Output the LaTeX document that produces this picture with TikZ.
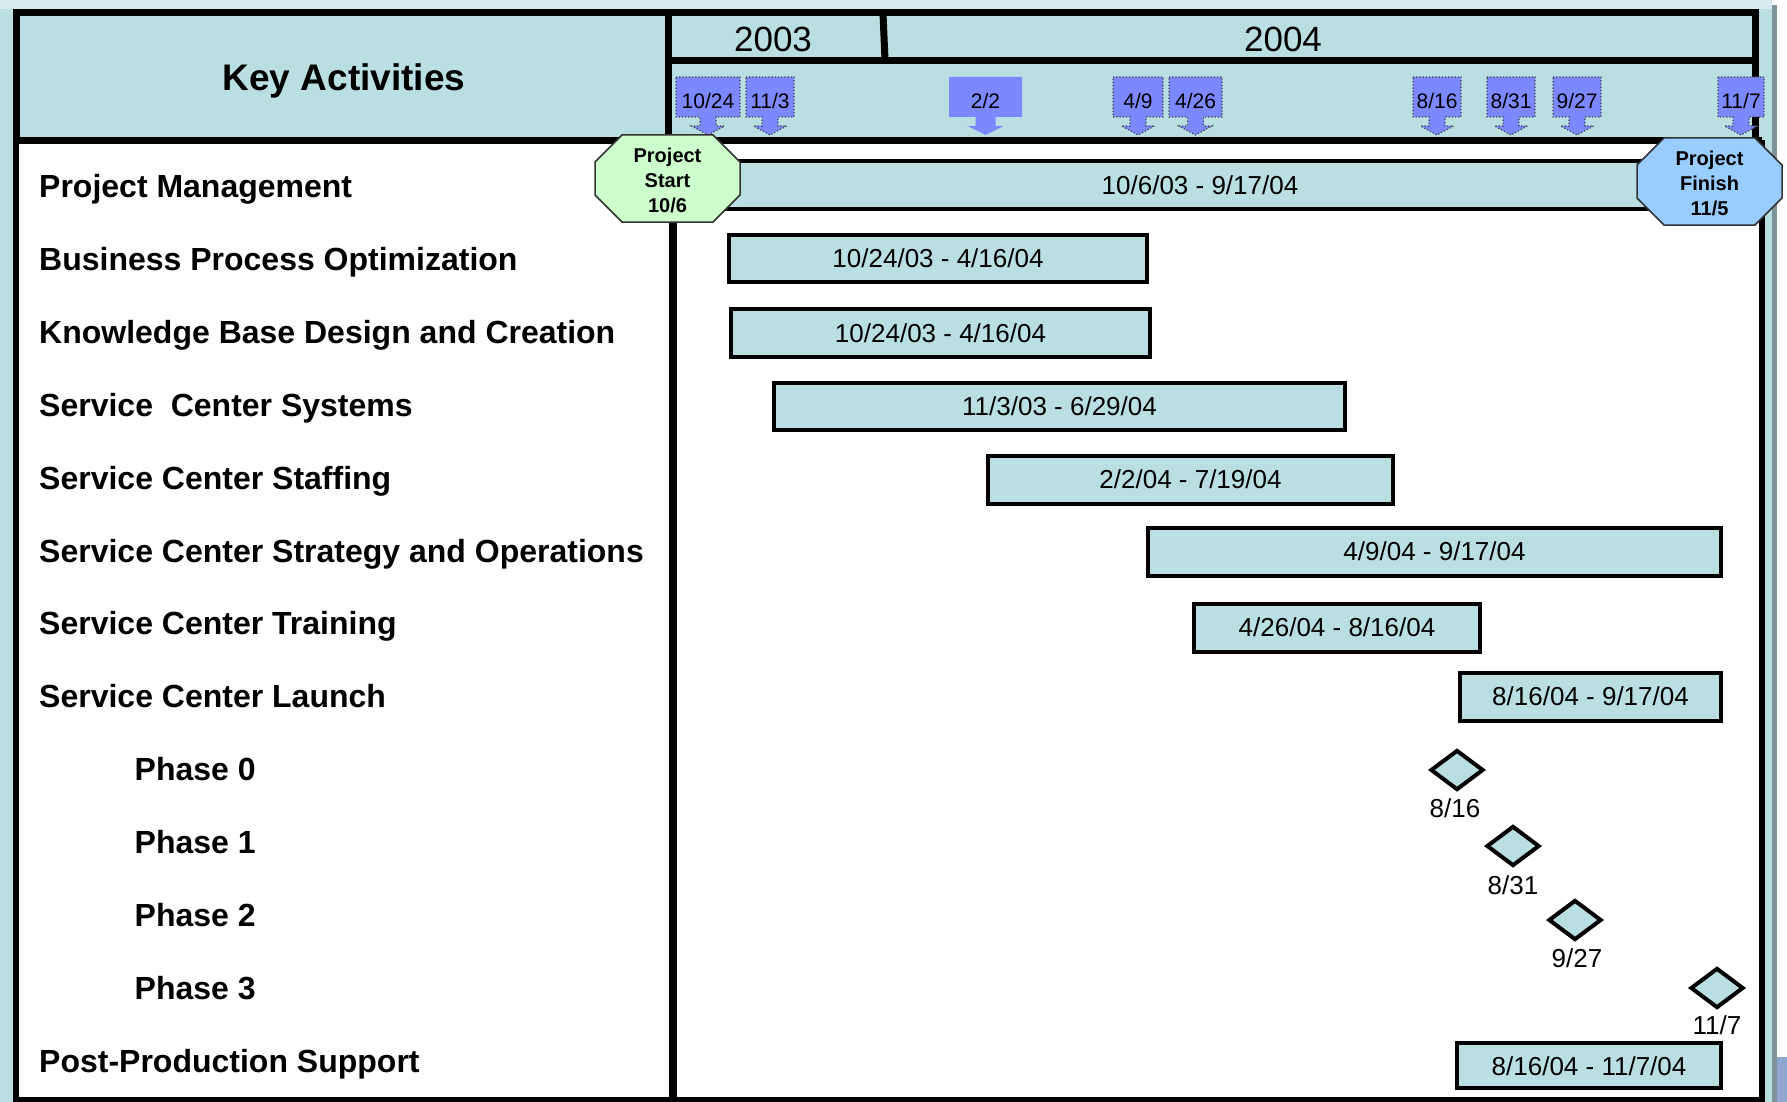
\documentclass[tikz,border=0pt]{standalone}
\usepackage{fontspec}
\setmainfont{Liberation Sans}
\usetikzlibrary{shapes.geometric}
\definecolor{ganttblue}{HTML}{B9DFE3}
\definecolor{bandblue}{HTML}{D6EBED}
\definecolor{shadowgray}{HTML}{7F9498}
\definecolor{msblue}{HTML}{7B88FF}
\definecolor{startgreen}{HTML}{CCFFCC}
\definecolor{finishblue}{HTML}{99CCFF}
\definecolor{cornerblue}{HTML}{8FA6CF}

\tikzset{
  frame/.style={line width=7pt},
  rowlabel/.style={anchor=west, inner sep=0pt, text height=23pt, text depth=0pt,
    font=\fontsize{32}{38}\selectfont\bfseries},
  bar/.style={draw, line width=4pt, fill=ganttblue, inner sep=0pt,
    text height=18.6pt, text depth=0pt, font=\fontsize{26}{31}\selectfont},
  bartext/.style={inner sep=0pt, text height=18.6pt, text depth=0pt,
    font=\fontsize{26}{31}\selectfont},
  yeartext/.style={inner sep=0pt, text height=25pt, text depth=0pt,
    font=\fontsize{35}{42}\selectfont},
  flagtext/.style={inner sep=0pt, text height=15pt, text depth=0pt,
    font=\fontsize{21}{25}\selectfont},
  flagbox/.style={fill=msblue, draw=black!75, dotted, line width=1.2pt},
  flagplain/.style={fill=msblue},
  octtext/.style={inner sep=0pt, align=center,
    font=\fontsize{20}{25}\selectfont\bfseries},
  octline/.style={draw=black!80, line width=1.5pt},
  milestone/.style={diamond, draw, line width=4pt, fill=ganttblue, inner sep=0pt,
    minimum width=53pt, minimum height=40pt},
  mslabel/.style={inner sep=0pt, text height=18.6pt, text depth=0pt,
    font=\fontsize{26}{31}\selectfont},
}

% milestone flag: name, left, right, text, style, shaft half width, head half width
\newcommand\msflag[7]{%
  \pgfmathsetmacro\fcx{(#2+#3)/2}%
  \path[#5] (#2,77) -- (#3,77) -- (#3,117) -- (\fcx+#6,117) -- (\fcx+#6,126)
    -- (\fcx+#7,126) -- (\fcx,135) -- (\fcx-#7,126) -- (\fcx-#6,126)
    -- (\fcx-#6,117) -- (#2,117) -- cycle;
  \node[flagtext] (#1) at (\fcx,101.5) {#4};%
}

% octagonal start/finish marker: name, centre x, centre y, fill, text
\newcommand\octomark[5]{%
  \filldraw[fill=#4, octline] (#2-72.5,#3-16.5) -- (#2-45.5,#3-43.5)
    -- (#2+45.5,#3-43.5) -- (#2+72.5,#3-16.5) -- (#2+72.5,#3+16.5)
    -- (#2+45.5,#3+43.5) -- (#2-45.5,#3+43.5) -- (#2-72.5,#3+16.5) -- cycle;
  \node[octtext] (#1) at (#2,#3+2) {#5};%
}

\begin{document}
\begin{tikzpicture}[x=1pt, y=-1pt]
\useasboundingbox (0,0) rectangle (1787,1102);

% page background with its shadow
\fill[white] (0,0) rectangle (1787,1102);
\fill[bandblue] (0,0) rectangle (1772,9);
\fill[shadowgray] (1772,5) rectangle (1777,1102);
\fill[ganttblue] (0,9) rectangle (1772,1102);
\fill[cornerblue] (1777,1057) rectangle (1787,1102);

% body area
\fill[white] (16,140.5) rectangle (1762,1100);

% header frame
\draw[frame] (16,13) rectangle (1755,140.5);
\draw[frame] (668.5,13) -- (668.5,140.5);
\draw[frame] (668.5,60.5) -- (1755,60.5);
\draw[frame] (883,13) -- (885,60.5);

\node[inner sep=0pt, text height=26.5pt, text depth=0pt,
  font=\fontsize{37}{44}\selectfont\bfseries] (title) at (344,77) {Key Activities};
\node[yeartext] (y2003) at (773,39) {2003};
\node[yeartext] (y2004) at (1283,39) {2004};

% milestone flags
\msflag{f1024}{676}{740}{10/24}{flagbox}{8}{16.5}
\msflag{f113}{746}{794}{11/3}{flagbox}{8}{16.5}
\msflag{f22}{949}{1022}{2/2}{flagplain}{10}{18}
\msflag{f49}{1113}{1163}{4/9}{flagbox}{8}{16.5}
\msflag{f426}{1169}{1222}{4/26}{flagbox}{8}{16.5}
\msflag{f816}{1413}{1461}{8/16}{flagbox}{8}{16.5}
\msflag{f831}{1487}{1535}{8/31}{flagbox}{8}{16.5}
\msflag{f927}{1553}{1601}{9/27}{flagbox}{8}{16.5}
\msflag{f117}{1718}{1764}{11/7}{flagbox}{8}{16.5}

% body frame
\draw[frame] (16,140.5) -- (1762,140.5);
\draw[line width=6pt] (16,140.5) -- (16,1100) -- (1762,1100) -- (1762,140.5);
\draw[line width=8pt] (673,140.5) -- (673,1100);

% activity bars
\node[bar, minimum width=1000pt, minimum height=48pt] (pm) at (1200,185) {10/6/03 - 9/17/04};
\node[bar, minimum width=418pt, minimum height=47pt] (bpo) at (938,258.5) {10/24/03 - 4/16/04};
\node[bar, minimum width=419pt, minimum height=48pt] (kb) at (940.5,333) {10/24/03 - 4/16/04};
\node[bar, minimum width=571pt, minimum height=47pt] (scs) at (1059.5,406.5) {11/3/03 - 6/29/04};
\node[bar, minimum width=405pt, minimum height=48pt] (staff) at (1190.5,479.5) {2/2/04 - 7/19/04};
\node[bar, minimum width=573pt, minimum height=48pt] (sso) at (1434.5,551.5) {4/9/04 - 9/17/04};
\node[bar, minimum width=286pt, minimum height=48pt] (sct) at (1337,627.5) {4/26/04 - 8/16/04};
\node[bar, minimum width=261pt, minimum height=48pt] (scl) at (1590.5,696.5) {8/16/04 - 9/17/04};
\node[bar, minimum width=264pt, minimum height=45pt] (pps) at (1589,1065) {};
\node[bartext] (ppsdates) at (1589,1066) {8/16/04 - 11/7/04};

% start and finish markers
\octomark{start}{667.5}{178.5}{startgreen}{Project\\Start\\10/6}
\octomark{finish}{1709.5}{181.5}{finishblue}{Project\\Finish\\11/5}

% phase milestones
\node[milestone] (ph0) at (1457,770) {};
\node[mslabel] (ph0d) at (1455,808) {8/16};
\node[milestone] (ph1) at (1513,846) {};
\node[mslabel] (ph1d) at (1513,885) {8/31};
\node[milestone] (ph2) at (1575,920) {};
\node[mslabel] (ph2d) at (1577,958) {9/27};
\node[milestone] (ph3) at (1717,988) {};
\node[mslabel] (ph3d) at (1717,1025) {11/7};

% activity names
\node[rowlabel] (l0) at (39,185.8) {Project Management};
\node[rowlabel] (l1) at (39,258.7) {Business Process Optimization};
\node[rowlabel] (l2) at (39,331.7) {Knowledge Base Design and Creation};
\node[rowlabel] (l3) at (39,404.6) {Service\ \ Center Systems};
\node[rowlabel] (l4) at (39,477.6) {Service Center Staffing};
\node[rowlabel] (l5) at (39,550.5) {Service Center Strategy and Operations};
\node[rowlabel] (l6) at (39,623.4) {Service Center Training};
\node[rowlabel] (l7) at (39,696.4) {Service Center Launch};
\node[rowlabel] (l8) at (134.5,769.3) {Phase 0};
\node[rowlabel] (l9) at (134.5,842.3) {Phase 1};
\node[rowlabel] (l10) at (134.5,915.2) {Phase 2};
\node[rowlabel] (l11) at (134.5,988.1) {Phase 3};
\node[rowlabel] (l12) at (39,1061.1) {Post-Production Support};
\end{tikzpicture}
\end{document}
